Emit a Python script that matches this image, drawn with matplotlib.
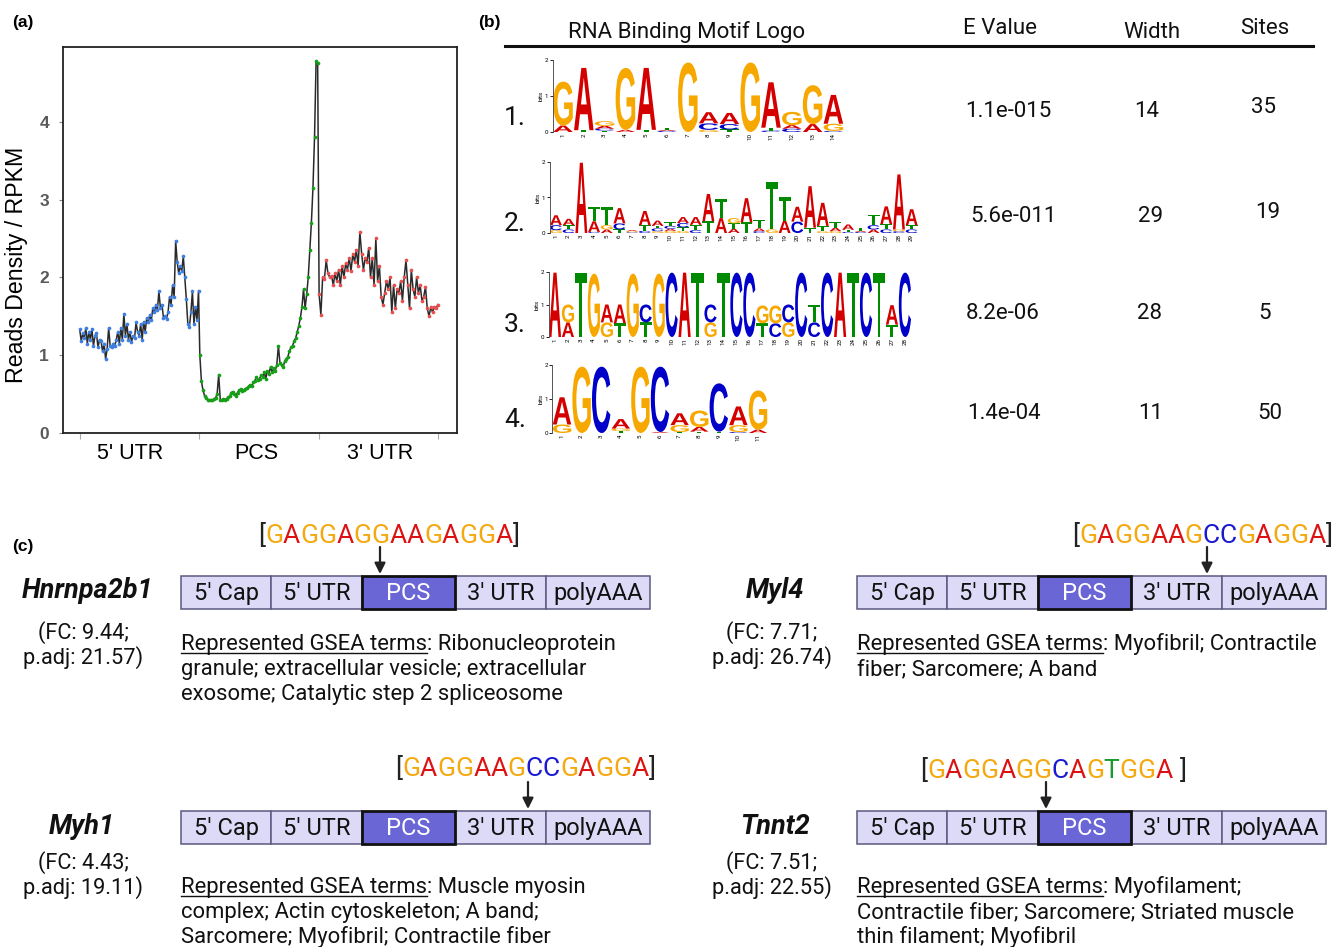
import numpy as np
import matplotlib
matplotlib.use('Agg')
import matplotlib.pyplot as plt
from matplotlib.textpath import TextPath
from matplotlib.patches import PathPatch, Rectangle
from matplotlib.font_manager import FontProperties
import matplotlib.transforms as mtrans

plt.rcParams['font.family'] = ['Roboto', 'DejaVu Sans']

# ---------------- data: panel (a) ----------------
region_labels = ["5' UTR", "PCS", "3' UTR"]
utr5_vals = [1.33, 1.18, 1.28, 1.22, 1.35, 1.15, 1.3, 1.2, 1.34, 1.12,
             1.25, 1.28, 1.1, 1.2, 1.18, 1.05, 1.15, 0.95, 1.08, 1.35,
             1.12, 1.1, 1.15, 1.12, 1.2, 1.3, 1.15, 1.35, 1.2, 1.53,
             1.25, 1.4, 1.2, 1.3, 1.17, 1.25, 1.22, 1.42, 1.3, 1.25,
             1.4, 1.2, 1.43, 1.3, 1.48, 1.42, 1.52, 1.45, 1.6, 1.55,
             1.65, 1.58, 1.82, 1.6, 1.65, 1.48, 1.5, 1.47, 1.55, 1.75,
             1.65, 1.9, 1.75, 2.47, 2.2, 2.05, 2.15, 2.08, 2.27, 2.0,
             1.72, 1.4, 1.36, 1.55, 1.82, 1.4, 1.62, 1.45, 1.83]
pcs_vals = [1.0, 0.67, 0.55, 0.48, 0.45, 0.43, 0.42, 0.43, 0.42, 0.44,
            0.45, 0.5, 0.75, 0.43, 0.42, 0.44, 0.43, 0.44, 0.46, 0.47,
            0.52, 0.53, 0.5, 0.48, 0.52, 0.55, 0.56, 0.54, 0.55, 0.57,
            0.58, 0.6, 0.62, 0.6, 0.65, 0.67, 0.72, 0.68, 0.7, 0.74,
            0.72, 0.78, 0.7, 0.8, 0.76, 0.85, 0.78, 0.83, 0.8, 0.88,
            1.12, 0.9, 0.87, 0.85, 0.92, 0.95, 0.98, 1.05, 1.1, 1.12,
            1.18, 1.22, 1.3, 1.38, 1.48, 1.62, 1.85, 1.6, 1.78, 2.0,
            2.35, 2.7, 3.15, 3.8, 4.78, 4.75]
utr3_vals = [1.78, 1.52, 2.0, 1.98, 2.22, 2.05, 2.0, 2.02, 1.9, 2.05,
             1.95, 2.1, 1.9, 2.15, 2.0, 2.18, 2.1, 2.25, 2.08, 2.3,
             2.2, 2.35, 2.15, 2.58, 2.3, 2.1, 2.25, 2.2, 2.38, 2.0,
             2.25, 1.9, 2.5, 1.95, 2.15, 1.75, 1.65, 1.8, 1.95, 1.85,
             2.0, 1.55, 1.9, 1.6, 1.85, 1.8, 1.95, 1.7, 2.0, 2.22,
             1.9, 1.6, 2.1, 1.85, 1.75, 2.0, 1.8, 1.9, 1.7, 1.75,
             1.88, 1.6, 1.5, 1.62, 1.55, 1.62, 1.6, 1.65]

# ---------------- data: panel (b) ----------------
motif_ids = ['1.', '2.', '3.', '4.']
e_values = ['1.1e-015', '5.6e-011', '8.2e-06', '1.4e-04']
motif_widths = ['14', '29', '28', '11']
motif_sites = ['35', '19', '5', '50']

motif1 = [
    [('A', 0.18), ('G', 1.22)],
    [('T', 0.05), ('A', 1.73)],
    [('T', 0.04), ('C', 0.05), ('A', 0.08), ('G', 0.13)],
    [('A', 0.06), ('G', 1.72)],
    [('T', 0.06), ('A', 1.72)],
    [('C', 0.03), ('A', 0.03), ('T', 0.06)],
    [('G', 1.93)],
    [('G', 0.06), ('C', 0.18), ('A', 0.31)],
    [('T', 0.07), ('C', 0.15), ('A', 0.31)],
    [('G', 1.93)],
    [('C', 0.04), ('T', 0.08), ('A', 1.26)],
    [('C', 0.09), ('A', 0.1), ('G', 0.37)],
    [('A', 0.22), ('G', 1.08)],
    [('C', 0.03), ('G', 0.2), ('A', 0.8)],
]
motif2 = [
    [('G', 0.08), ('C', 0.14), ('A', 0.28)],
    [('C', 0.1), ('T', 0.12), ('A', 0.18)],
    [('A', 1.98)],
    [('C', 0.03), ('A', 0.3), ('T', 0.4)],
    [('A', 0.1), ('G', 0.12), ('T', 0.5)],
    [('T', 0.1), ('C', 0.17), ('A', 0.43)],
    [('C', 0.02), ('G', 0.03), ('A', 0.03)],
    [('C', 0.06), ('T', 0.16), ('A', 0.4)],
    [('G', 0.05), ('C', 0.08), ('T', 0.07), ('A', 0.15)],
    [('G', 0.06), ('A', 0.06), ('C', 0.08), ('T', 0.1)],
    [('G', 0.06), ('T', 0.1), ('C', 0.12), ('A', 0.17)],
    [('C', 0.08), ('T', 0.15), ('A', 0.22)],
    [('T', 0.33), ('A', 0.77)],
    [('A', 0.42), ('T', 0.55)],
    [('A', 0.12), ('T', 0.15), ('G', 0.15)],
    [('T', 0.3), ('A', 0.68)],
    [('C', 0.05), ('A', 0.08), ('T', 0.25)],
    [('G', 0.1), ('T', 1.35)],
    [('A', 0.35), ('T', 0.65)],
    [('C', 0.32), ('A', 0.42)],
    [('T', 0.15), ('A', 1.17)],
    [('G', 0.05), ('T', 0.15), ('A', 0.65)],
    [('G', 0.05), ('A', 0.1), ('T', 0.15)],
    [('C', 0.03), ('T', 0.06), ('A', 0.15)],
    [('C', 0.03), ('A', 0.03), ('T', 0.08)],
    [('A', 0.1), ('C', 0.12), ('T', 0.3)],
    [('C', 0.1), ('T', 0.15), ('A', 0.5)],
    [('C', 0.05), ('G', 0.05), ('A', 1.55)],
    [('C', 0.1), ('T', 0.12), ('A', 0.45)],
]
motif3 = [
    [('A', 1.98)], [('A', 0.45), ('G', 0.55)], [('T', 1.98)], [('G', 1.95)],
    [('G', 0.45), ('A', 0.55)], [('T', 0.42), ('A', 0.58)], [('G', 1.95)],
    [('T', 0.45), ('C', 0.55)], [('G', 1.95)], [('C', 1.98)], [('A', 1.98)],
    [('T', 1.98)], [('G', 0.45), ('C', 0.55)], [('T', 1.98)], [('C', 1.98)],
    [('C', 1.98)], [('T', 0.42), ('G', 0.55)], [('C', 0.42), ('G', 0.55)],
    [('G', 0.45), ('C', 0.55)], [('C', 1.98)], [('C', 0.45), ('T', 0.55)],
    [('C', 1.98)], [('A', 1.98)], [('T', 1.98)], [('C', 1.98)], [('T', 1.98)],
    [('T', 0.38), ('A', 0.6)], [('C', 1.98)],
]
motif4 = [
    [('G', 0.25), ('A', 0.8)],
    [('G', 1.95)],
    [('C', 1.95)],
    [('T', 0.06), ('G', 0.07), ('A', 0.28)],
    [('G', 1.95)],
    [('A', 0.03), ('C', 1.92)],
    [('T', 0.03), ('G', 0.2), ('A', 0.35)],
    [('T', 0.04), ('A', 0.14), ('G', 0.48)],
    [('T', 0.04), ('C', 1.42)],
    [('C', 0.03), ('G', 0.2), ('A', 0.55)],
    [('A', 0.1), ('G', 1.15)],
]
motifs = [motif1, motif2, motif3, motif4]

# ---------------- data: panel (c) ----------------
genes = ['Hnrnpa2b1', 'Myl4', 'Myh1', 'Tnnt2']
gene_fc = ['9.44', '7.71', '4.43', '7.51']
gene_padj = ['21.57', '26.74', '19.11', '22.55']
gene_seqs = ['[GAGGAGGAAGAGGA]', '[GAGGAAGCCGAGGA]', '[GAGGAAGCCGAGGA]', '[GAGGAGGCAGTGGA ]']
segment_names = ["5' Cap", "5' UTR", "PCS", "3' UTR", "polyAAA"]
gsea_lines = [
    ["Represented GSEA terms: Ribonucleoprotein",
     "granule; extracellular vesicle; extracellular",
     "exosome; Catalytic step 2 spliceosome"],
    ["Represented GSEA terms: Myofibril; Contractile",
     "fiber; Sarcomere; A band"],
    ["Represented GSEA terms: Muscle myosin",
     "complex; Actin cytoskeleton; A band;",
     "Sarcomere; Myofibril; Contractile fiber"],
    ["Represented GSEA terms: Myofilament;",
     "Contractile fiber; Sarcomere; Striated muscle",
     "thin filament; Myofibril"],
]

# ---------------- styles ----------------
LOGO_COL = {'A': '#d40000', 'C': '#0000c8', 'G': '#f7a800', 'T': '#008a00'}
SEQ_COL = {'A': '#dd1111', 'C': '#1a1ad0', 'G': '#f5a910', 'T': '#1a9a30'}
HELV = ['Liberation Sans', 'DejaVu Sans']

W, H = 1339, 947
fig = plt.figure(figsize=(W / 100, H / 100), dpi=100)
renderer = fig.canvas.get_renderer()


def fpos(x0, y0, x1, y1):
    return [x0 / W, 1 - y1 / H, (x1 - x0) / W, (y1 - y0) / H]


def tw(s, fp):
    w, h, d = renderer.get_text_width_height_descent(s, fp, ismath=False)
    return w


ax0 = fig.add_axes([0, 0, 1, 1])
ax0.set_xlim(0, W)
ax0.set_ylim(H, 0)
ax0.axis('off')

# panel labels
for lab, (px, py) in zip(['(a)', '(b)', '(c)'], [(12, 22), (478, 22), (12, 546)]):
    ax0.text(px, py, lab, fontsize=12.5, fontweight='bold', ha='left', va='center',
             family=HELV)

# ---------------- panel (a) ----------------
axa = fig.add_axes(fpos(63, 47, 457, 433))
x5 = np.linspace(0.0, 99.5, len(utr5_vals))
xp = np.linspace(100.6, 199.3, len(pcs_vals))
x3 = np.linspace(200.5, 300.0, len(utr3_vals))
xall = np.concatenate([x5, xp, x3])
yall = np.concatenate([utr5_vals, pcs_vals, utr3_vals])
axa.plot(xall, yall, color='#2a2a2a', lw=1.1, zorder=2)
axa.scatter(x5, utr5_vals, s=7, color='#3f7fe0', linewidths=0, zorder=3)
axa.scatter(xp, pcs_vals, s=7, color='#17a017', linewidths=0, zorder=3)
axa.scatter(x3, utr3_vals, s=7, color='#e85050', linewidths=0, zorder=3)
axa.set_xlim(-14, 316)
axa.set_ylim(0, 4.96)
axa.set_xticks([0, 100, 200, 300])
axa.set_xticklabels([])
axa.tick_params(axis='x', which='major', length=4, color='#aaaaaa')
axa.set_xticks([42, 148, 252], minor=True)
axa.set_xticklabels(region_labels, minor=True, fontsize=15.5, family=HELV)
axa.tick_params(axis='x', which='minor', length=0, pad=7)
axa.set_yticks([0, 1, 2, 3, 4])
axa.set_yticklabels(['0', '1', '2', '3', '4'], fontsize=12.5, color='#5a5a5a',
                    fontweight='bold', family=HELV)
axa.tick_params(axis='y', length=3, color='#888888', pad=7)
axa.set_ylabel('Reads Density / RPKM', fontsize=16.7, family=HELV)
axa.yaxis.set_label_coords(-0.09, 0.435)
for sp in axa.spines.values():
    sp.set_color('#222222')
    sp.set_linewidth(1.3)

# ---------------- panel (b) ----------------
ax0.plot([505, 1313], [46, 46], color='#111111', lw=2.2)
hdr_fp = dict(fontsize=16, ha='center', va='center', color='#111111')
ax0.text(687, 32, 'RNA Binding Motif Logo', **hdr_fp)
ax0.text(1000, 28, 'E Value', **hdr_fp)
ax0.text(1152, 32, 'Width', **hdr_fp)
ax0.text(1265, 28, 'Sites', **hdr_fp)

num_y = [118, 224, 325, 420]
ev_pos = [(1008, 111), (1013, 216), (1003, 313), (1004, 413)]
wd_pos = [(1147, 111), (1151, 216), (1150, 313), (1151, 413)]
st_pos = [(1264, 107), (1268, 212), (1265, 313), (1270, 413)]
for i in range(4):
    ax0.text(515, num_y[i], motif_ids[i], fontsize=19, ha='center', va='center',
             color='#111111')
    ax0.text(*ev_pos[i], e_values[i], fontsize=16, ha='center', va='center', color='#111111')
    ax0.text(*wd_pos[i], motif_widths[i], fontsize=16, ha='center', va='center', color='#111111')
    ax0.text(*st_pos[i], motif_sites[i], fontsize=16, ha='center', va='center', color='#111111')

LOGO_FP = FontProperties(family='Liberation Sans', weight='bold')
letter_paths = {L: TextPath((0, 0), L, size=1, prop=LOGO_FP) for L in 'ACGT'}


def draw_logo(ax, stacks, wfrac=0.94):
    for i, col in enumerate(stacks, start=1):
        base = 0.0
        for L, h in col:
            p = letter_paths[L]
            bb = p.get_extents()
            t = (mtrans.Affine2D().translate(-bb.x0, -bb.y0)
                 .scale(wfrac / bb.width, h / bb.height)
                 .translate(i - wfrac / 2, base))
            ax.add_patch(PathPatch(t.transform_path(p), fc=LOGO_COL[L], ec='none'))
            base += h
    n = len(stacks)
    ax.set_xlim(0.5, n + 0.5)
    ax.set_ylim(0, 2)
    ax.set_xticks(range(1, n + 1))
    ax.set_xticklabels([str(k) for k in range(1, n + 1)], rotation=90, fontsize=4.5)
    ax.set_yticks([0, 1, 2])
    ax.set_yticklabels(['0', '1', '2'], fontsize=4.5)
    ax.tick_params(axis='x', length=0, pad=1)
    ax.tick_params(axis='y', length=2, pad=1, width=0.6)
    ax.set_ylabel('bits', fontsize=4.5, labelpad=1)
    for s in ['top', 'right', 'bottom']:
        ax.spines[s].set_visible(False)
    ax.spines['left'].set_linewidth(0.7)
    ax.spines['left'].set_color('#555555')
    ax.patch.set_alpha(0)


logo_boxes = [(552.6, 60, 843.8, 132), (549.6, 162, 918.0, 233),
              (548.5, 272, 911.4, 337), (552.2, 365, 767.8, 433)]
for stacks, box in zip(motifs, logo_boxes):
    axl = fig.add_axes(fpos(*box))
    draw_logo(axl, stacks)

# ---------------- panel (c) ----------------
box_x0 = [181, 857, 181, 857]
box_y0 = [576, 576, 811, 811]
box_h = 33
seg_edges = [0, 90, 181, 274, 365, 469]
name_pos = [(88, 590), (775, 590), (82, 826), (775, 826)]
fc_pos = [(83, 633), (772, 633), (83, 863), (772, 863)]
seq_pos = [(258, 543), (1072, 543), (395, 776), (920, 778)]
arrow_x = [380, 1207, 528, 1046]
gsea_base = [650, 650, 893, 893]

SEQ_FP = FontProperties(family='Roboto', size=19)
TXT_FP = FontProperties(family='Roboto', size=15.8)


def draw_seq(x0, yb, s):
    for i, ch in enumerate(s):
        if ch == ' ':
            continue
        xi = x0 + tw(s[:i + 1], SEQ_FP) - tw(ch, SEQ_FP)
        ax0.text(xi, yb, ch, color=SEQ_COL.get(ch, '#222222'), fontproperties=SEQ_FP,
                 ha='left', va='baseline')


for g in range(4):
    bx, by = box_x0[g], box_y0[g]
    for k, name in enumerate(segment_names):
        x_a, x_b = bx + seg_edges[k], bx + seg_edges[k + 1]
        is_pcs = (name == 'PCS')
        ax0.add_patch(Rectangle((x_a, by), x_b - x_a, box_h,
                                fc='#6b66d6' if is_pcs else '#dcdaf7',
                                ec='#111111' if is_pcs else '#5a5a80',
                                lw=2.0 if is_pcs else 1.1, zorder=3 if is_pcs else 2))
        ax0.text((x_a + x_b) / 2, by + box_h / 2 + 1, name, fontsize=17,
                 color='white' if is_pcs else '#111111', ha='center', va='center', zorder=4)
    # arrow
    ax0.annotate('', xy=(arrow_x[g], by - 2), xytext=(arrow_x[g], by - 29),
                 arrowprops=dict(arrowstyle='-|>', color='#222222', lw=1.6,
                                 mutation_scale=16, shrinkA=0, shrinkB=0))
    draw_seq(seq_pos[g][0], seq_pos[g][1], gene_seqs[g])
    # gene name and stats
    ax0.text(*name_pos[g], genes[g], fontsize=19.5, fontweight='bold', fontstyle='italic',
             ha='center', va='center', color='#111111')
    ax0.text(fc_pos[g][0], fc_pos[g][1], '(FC: %s;' % gene_fc[g], fontsize=15.7,
             ha='center', va='center', color='#111111')
    ax0.text(fc_pos[g][0], fc_pos[g][1] + 25, 'p.adj: %s)' % gene_padj[g], fontsize=15.7,
             ha='center', va='center', color='#111111')
    # GSEA text
    for j, line in enumerate(gsea_lines[g]):
        yb = gsea_base[g] + 25 * j
        ax0.text(bx, yb, line, fontproperties=TXT_FP, ha='left', va='baseline',
                 color='#111111')
    ul = tw('Represented GSEA terms', TXT_FP)
    ax0.plot([bx, bx + ul], [gsea_base[g] + 3, gsea_base[g] + 3], color='#111111', lw=1.0)

fig.savefig('out.png', dpi=100)
